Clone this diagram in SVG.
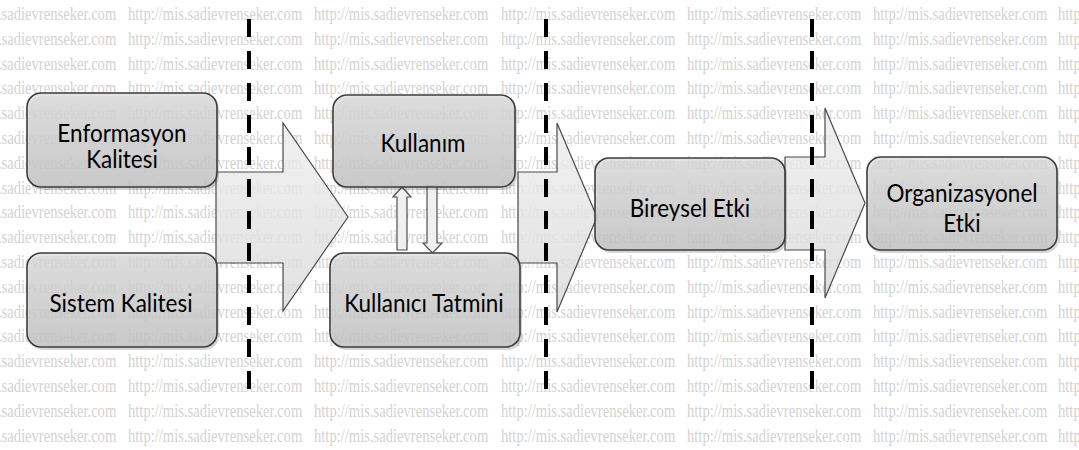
<svg xmlns="http://www.w3.org/2000/svg" xmlns:xlink="http://www.w3.org/1999/xlink" width="1079" height="450" viewBox="0 0 1079 450">
<style>
.wm{font-family:"Liberation Serif","Times New Roman",serif;font-size:14.6px;fill:#d3d3d3}
.box{fill:url(#boxg);fill-opacity:0.82;stroke:#3c3c3c;stroke-width:1.6}
.shadow{fill:#000;opacity:0.16}
.big{fill:url(#arrg);fill-opacity:0.82;stroke:#4a4a4a;stroke-width:1.2;stroke-linejoin:miter}
.small{fill:#f0f0f0;stroke:#505050;stroke-width:1.2}
.lbl{font-family:Lato,"Open Sans",sans-serif;font-size:22.5px;fill:#000;text-anchor:middle}
.div{stroke:#000;stroke-width:4;stroke-dasharray:18 14;fill:none}
</style>
<defs>
<linearGradient id="boxg" x1="0" y1="0" x2="0" y2="1">
<stop offset="0" stop-color="#dedede"/>
<stop offset="1" stop-color="#c6c6c6"/>
</linearGradient>
<linearGradient id="arrg" x1="0" y1="0" x2="0" y2="1">
<stop offset="0" stop-color="#eeeeee"/>
<stop offset="1" stop-color="#dadada"/>
</linearGradient>
<g id="wmrow" transform="scale(1,1.25)">
<text class="wm" x="-58" y="0">http://mis.sadievrenseker.com</text>
<text class="wm" x="128" y="0">http://mis.sadievrenseker.com</text>
<text class="wm" x="314" y="0">http://mis.sadievrenseker.com</text>
<text class="wm" x="501" y="0">http://mis.sadievrenseker.com</text>
<text class="wm" x="687" y="0">http://mis.sadievrenseker.com</text>
<text class="wm" x="873" y="0">http://mis.sadievrenseker.com</text>
<text class="wm" x="1058" y="0">http://mis.sadievrenseker.com</text>
</g>
</defs>
<rect x="0" y="0" width="1079" height="450" fill="#fff"/>
<g id="watermark">
<use xlink:href="#wmrow" transform="translate(0,20)"/>
<use xlink:href="#wmrow" transform="translate(0,44.8)"/>
<use xlink:href="#wmrow" transform="translate(0,69.6)"/>
<use xlink:href="#wmrow" transform="translate(0,94.4)"/>
<use xlink:href="#wmrow" transform="translate(0,119.2)"/>
<use xlink:href="#wmrow" transform="translate(0,144)"/>
<use xlink:href="#wmrow" transform="translate(0,168.8)"/>
<use xlink:href="#wmrow" transform="translate(0,193.6)"/>
<use xlink:href="#wmrow" transform="translate(0,218.4)"/>
<use xlink:href="#wmrow" transform="translate(0,243.2)"/>
<use xlink:href="#wmrow" transform="translate(0,268)"/>
<use xlink:href="#wmrow" transform="translate(0,292.8)"/>
<use xlink:href="#wmrow" transform="translate(0,317.6)"/>
<use xlink:href="#wmrow" transform="translate(0,342.4)"/>
<use xlink:href="#wmrow" transform="translate(0,367.2)"/>
<use xlink:href="#wmrow" transform="translate(0,392)"/>
<use xlink:href="#wmrow" transform="translate(0,416.8)"/>
<use xlink:href="#wmrow" transform="translate(0,441.6)"/>
</g>
<g id="connectors">
<path class="big" d="M216,172 L283,172 L283,123 L348,217 L283,311 L283,263 L216,263 Z"/>
<path class="big" d="M518,172 L557,172 L557,123 L597,217 L557,312 L557,263 L518,263 Z"/>
<path class="big" d="M785,157 L825,157 L825,108 L865,203 L825,298 L825,250 L785,250 Z"/>
<path class="small" d="M397,250 L397,197 L393,197 L402,187 L411,197 L407,197 L407,250 Z"/>
<path class="small" d="M427,186 L437,186 L437,243 L442,243 L432.5,253 L423,243 L427,243 Z"/>
</g>
<g id="node-enformasyon">
<rect class="shadow" x="29" y="96" width="190" height="94" rx="14"/>
<rect class="box" x="27" y="93" width="190" height="94" rx="14"/>
<text class="lbl" transform="translate(122,142) scale(1,1.12)">Enformasyon</text>
<text class="lbl" transform="translate(122,168) scale(1,1.12)">Kalitesi</text>
</g>
<g id="node-sistem">
<rect class="shadow" x="29" y="256" width="190" height="94" rx="14"/>
<rect class="box" x="27" y="253" width="190" height="94" rx="14"/>
<text class="lbl" transform="translate(121,312) scale(1,1.12)">Sistem Kalitesi</text>
</g>
<g id="node-kullanim">
<rect class="shadow" x="335" y="98" width="182" height="92" rx="14"/>
<rect class="box" x="333" y="95" width="182" height="92" rx="14"/>
<text class="lbl" transform="translate(423,152) scale(1,1.12)">Kullanım</text>
</g>
<g id="node-tatmin">
<rect class="shadow" x="332" y="256" width="190" height="94" rx="14"/>
<rect class="box" x="330" y="253" width="190" height="94" rx="14"/>
<text class="lbl" transform="translate(424,312) scale(1,1.12)">Kullanıcı Tatmini</text>
</g>
<g id="node-bireysel">
<rect class="shadow" x="597" y="161" width="190" height="92" rx="14"/>
<rect class="box" x="595" y="158" width="190" height="92" rx="14"/>
<text class="lbl" transform="translate(690,217) scale(1,1.12)">Bireysel Etki</text>
</g>
<g id="node-organizasyonel">
<rect class="shadow" x="869" y="160" width="190" height="93" rx="14"/>
<rect class="box" x="867" y="157" width="190" height="93" rx="14"/>
<text class="lbl" transform="translate(962,202) scale(1,1.12)">Organizasyonel</text>
<text class="lbl" transform="translate(962,232) scale(1,1.12)">Etki</text>
</g>
<g id="dividers">
<line class="div" x1="249" y1="19" x2="249" y2="389"/>
<line class="div" x1="546" y1="19" x2="546" y2="389"/>
<line class="div" x1="812" y1="19" x2="812" y2="389"/>
</g>
</svg>
